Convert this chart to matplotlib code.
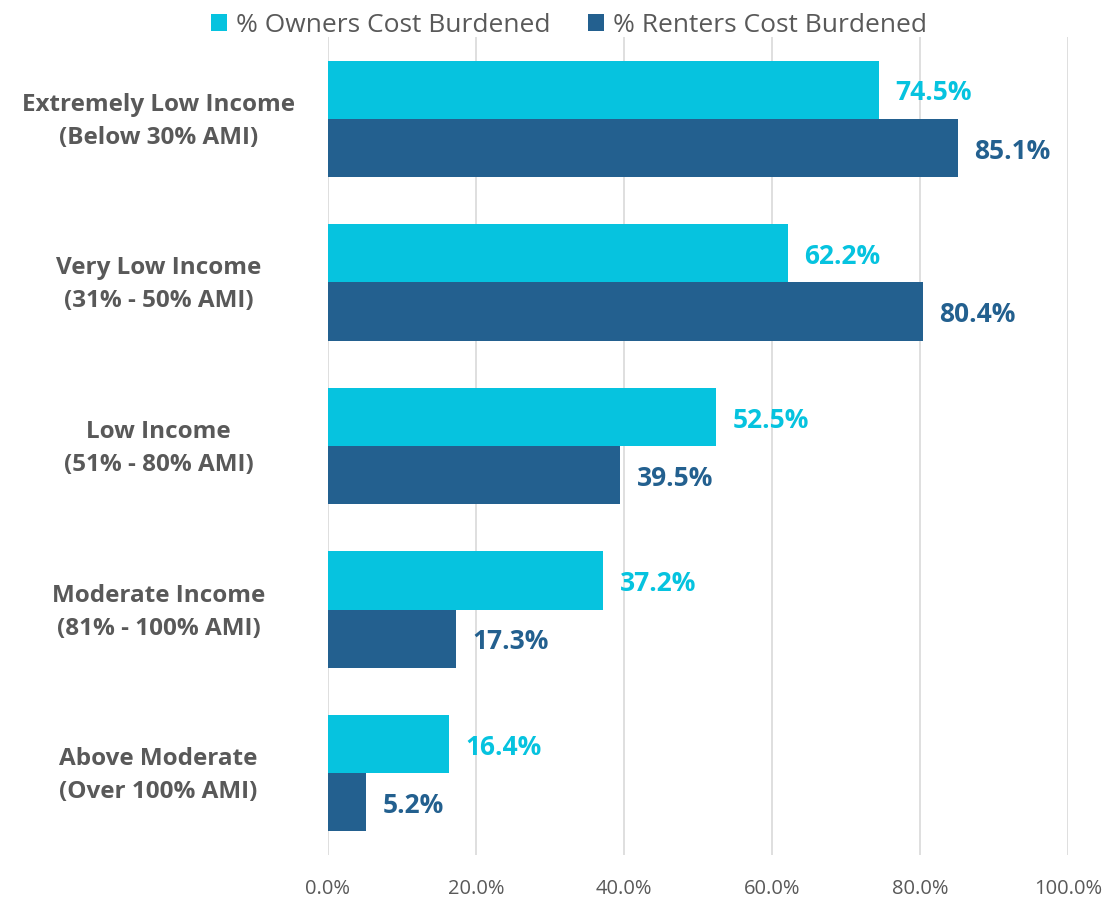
import matplotlib.pyplot as plt
import matplotlib.transforms as mtransforms
import numpy as np
from matplotlib.ticker import PercentFormatter

categories = [
    "Extremely Low Income\n(Below 30% AMI)",
    "Very Low Income\n(31% - 50% AMI)",
    "Low Income\n(51% - 80% AMI)",
    "Moderate Income\n(81% - 100% AMI)",
    "Above Moderate\n(Over 100% AMI)",
]
owners = [74.5, 62.2, 52.5, 37.2, 16.4]
renters = [85.1, 80.4, 39.5, 17.3, 5.2]
series_names = ["% Owners Cost Burdened", "% Renters Cost Burdened"]

owner_color = "#06C3DF"
renter_color = "#23608F"
text_color = "#595959"

plt.rcParams['font.family'] = ['Open Sans', 'DejaVu Sans']

fig = plt.figure(figsize=(11.05, 9), dpi=100)
ax = fig.add_axes([328 / 1105, 45 / 900, 740 / 1105, 818 / 900])

y = np.arange(len(categories))
h = 0.356
b1 = ax.barh(y - h / 2, owners, height=h, color=owner_color, label=series_names[0])
b2 = ax.barh(y + h / 2, renters, height=h, color=renter_color, label=series_names[1])

for bars, vals, col in [(b1, owners, owner_color), (b2, renters, renter_color)]:
    for bar, v in zip(bars, vals):
        ax.text(v + 2.2, bar.get_y() + bar.get_height() / 2 + 0.02, f"{v:.1f}%",
                va="center", ha="left", fontsize=19, fontweight="bold", color=col)

ax.set_xlim(0, 100)
ax.set_ylim(len(categories) - 0.5, -0.5)
ax.set_xticks(np.arange(0, 101, 20))
ax.xaxis.set_major_formatter(PercentFormatter(decimals=1))
ax.set_yticks(y)
ax.set_yticklabels(categories, fontsize=17.5, fontweight="bold", color=text_color,
                   ha="center", linespacing=1.5)
ax.tick_params(axis="y", length=0, pad=122)
ax.tick_params(axis="x", length=0, labelsize=14.5, colors=text_color, pad=17)
# nudge category labels up a little
shift = mtransforms.ScaledTranslation(0, 5 / 100, fig.dpi_scale_trans)
for lbl in ax.get_yticklabels():
    lbl.set_transform(lbl.get_transform() + shift)
ax.grid(axis="x", color="#d9d9d9", linewidth=1.2)
ax.set_axisbelow(True)
for s in ax.spines.values():
    s.set_visible(False)

fig.legend(loc="upper center", bbox_to_anchor=(0.515, 1.012), ncol=2, frameon=False,
           fontsize=19, handlelength=0.6, handleheight=0.6, handletextpad=0.35,
           columnspacing=1.4, labelcolor=text_color)

fig.savefig("out.png", dpi=100)
